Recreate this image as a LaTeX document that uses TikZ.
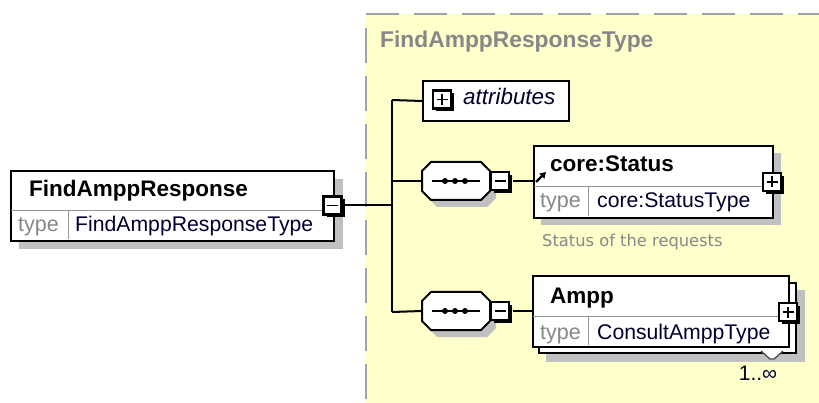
\documentclass[tikz,border=0pt]{standalone}
\usepackage{fontspec}
\setmainfont{Liberation Sans}
\newfontfamily\notefont{DejaVu Sans}
\usetikzlibrary{shadows,arrows.meta}
\definecolor{typeyellow}{RGB}{255,255,204}
\definecolor{dashgray}{RGB}{160,160,160}
\definecolor{shadowgray}{RGB}{192,192,192}
\definecolor{divgray}{RGB}{150,150,150}
\definecolor{labelgray}{RGB}{135,135,135}
\definecolor{valnavy}{RGB}{0,0,48}
\tikzset{
  elembox/.style={draw=black, line width=2pt, fill=white, rectangle, inner sep=0pt, anchor=north west},
  divline/.style={draw=divgray, line width=1pt},
  conn/.style={draw=black, line width=2pt},
  iconbase/.style={draw=black, line width=2.2pt, fill=white, rectangle, minimum size=18pt, inner sep=0pt,
     drop shadow={shadow xshift=3pt, shadow yshift=-3pt, fill=black, opacity=1}},
  minusicon/.style={iconbase, path picture={\draw[line width=1.7pt] ([xshift=3.5pt]path picture bounding box.west) -- ([xshift=-3.5pt]path picture bounding box.east);}},
  plusicon/.style={iconbase, path picture={\draw[line width=1.7pt] ([xshift=3.5pt]path picture bounding box.west) -- ([xshift=-3.5pt]path picture bounding box.east);
     \draw[line width=1.7pt] ([yshift=-3.5pt]path picture bounding box.north) -- ([yshift=3.5pt]path picture bounding box.south);}},
  octline/.style={draw=black, line width=2pt, fill=white, line join=miter},
  namefont/.style={font=\fontsize{22.5}{26}\selectfont\bfseries, anchor=base west, inner sep=0pt},
  typefont/.style={font=\fontsize{21.5}{25}\selectfont, text=labelgray, anchor=base west, inner sep=0pt},
  valfont/.style={font=\fontsize{21.2}{25}\selectfont, text=valnavy, anchor=base west, inner sep=0pt},
}
% octagon: #1 name, #2 cx, #3 cy  (68 x 38, chamfer 9)
\newcommand{\seqoct}[3]{%
  \fill[shadowgray] ({#2-34+6},{#3+7}) -- ++(9,-19) -- ++(50,0) -- ++(9,9) -- ++(0,20) -- ++(-9,9) -- ++(-50,0) -- ++(-9,-9) -- cycle;
  \draw[octline] ({#2-34},{#3}) -- ++(0,-10) -- ++(9,-9) -- ++(50,0) -- ++(9,9) -- ++(0,20) -- ++(-9,9) -- ++(-50,0) -- ++(-9,-9) -- cycle;
  \coordinate (#1-w) at ({#2-34},{#3});
  \coordinate (#1-e) at ({#2+34},{#3});
  \draw[line width=1.6pt] ({#2-24},{#3}) -- ({#2+24},{#3});
  \foreach \dx in {-11,-1,9} \fill ({#2+\dx},{#3}) circle (3);
}
\begin{document}
\begin{tikzpicture}[x=1pt,y=-1pt]
\useasboundingbox (0,0) rectangle (819,403);
\fill[white] (0,0) rectangle (819,403);
% complex type area
\fill[typeyellow] (366,14) rectangle (819,403);
\draw[dashgray, line width=2.2pt, dash pattern=on 33pt off 15pt] (366,14) -- (819,14);
\draw[dashgray, line width=2.2pt, dash pattern=on 35pt off 13pt] (366,28) -- (366,403);
\node[font=\fontsize{22.8}{26}\selectfont\bfseries, text=labelgray, anchor=base west, inner sep=0pt] (ttitle) at (380,48) {FindAmppResponseType};

% FindAmppResponse element
\fill[shadowgray] (19,179) rectangle (343,249);
\node[elembox, minimum width=323pt, minimum height=70pt] (e1) at (10,170) {};
\draw[divline] (11,211) -- (332,211);
\draw[divline] (68,211) -- (68,239);
\node[namefont] (e1name) at (29,197) {FindAmppResponse};
\node[typefont] (e1type) at (18,232) {type};
\node[valfont] (e1val) at (75,232) {FindAmppResponseType};
\node[minusicon] (m0) at (332.5,205.5) {};

% trunk coordinates
\coordinate (t0) at (392,100);
\coordinate (t3) at (392,312);

% attributes
\node[draw=black, line width=2pt, fill=white, minimum width=146pt, minimum height=40pt, inner sep=0pt, anchor=north west] (attr) at (422,80) {};
\node[plusicon] (pa) at (442,99.5) {};
\node[font=\fontsize{22.4}{26}\selectfont\itshape, text=valnavy, anchor=base west, inner sep=0pt] (attrtext) at (463,105) {attributes};

% sequences
\seqoct{s1}{456}{181}
\node[minusicon] (ms1) at (500,181) {};
\seqoct{s2}{456}{311}
\node[minusicon] (ms2) at (500,311) {};

% core:Status element
\fill[shadowgray] (541,153) rectangle (781,225);
\node[elembox, minimum width=239pt, minimum height=72pt] (e2) at (533,145) {};
\draw[divline] (534,187) -- (771,187);
\draw[divline] (588,187) -- (588,216);
\draw[line width=2.2pt, -{Triangle[length=6pt,width=7pt]}] (536,182) -- (546,172);
\node[namefont] (e2name) at (550,172) {core:Status};
\node[typefont] (e2type) at (540,208) {type};
\node[valfont] (e2val) at (597,208) {core:StatusType};
\node[plusicon] (p2) at (772,182) {};
\node[font=\notefont\fontsize{16.3}{19}\selectfont, text=labelgray, anchor=base west, inner sep=0pt] (note) at (542,247) {Status of the requests};

% Ampp element (repeated)
\fill[shadowgray] (546,290) rectangle (805,362);
\node[elembox, minimum width=257pt, minimum height=70pt] (e3b) at (538,282) {};
\node[elembox, minimum width=256pt, minimum height=71pt] (e3) at (532,275) {};
\draw[divline] (533,316) -- (787,316);
\draw[divline] (588,316) -- (588,345);
\node[namefont] (e3name) at (550,303) {Ampp};
\node[typefont] (e3type) at (540,339) {type};
\node[valfont] (e3val) at (597,339) {ConsultAmppType};
\node[plusicon] (p3) at (788,312) {};
\draw[black!70, line width=1.3pt, fill=white] (761,351) -- (770,359) -- (774,359) -- (783,351);
\node[font=\fontsize{21}{25}\selectfont, text=valnavy, anchor=base, inner sep=0pt] (card) at (758,380) {1..∞};

% connectors
\draw[conn] (m0.east) -- (m0.east -| t0);
\draw[conn] (t0) -- (t3);
\draw[conn] (t0) -- (attr.west);
\draw[conn] (s1-w -| t0) -- (s1-w);
\draw[conn] (t3) -- (s2-w);
\draw[conn] ([xshift=3pt]ms1.east) -- (e2.west |- ms1.east);
\draw[conn] ([xshift=3pt]ms2.east) -- (e3.west |- ms2.east);
\end{tikzpicture}
\end{document}
